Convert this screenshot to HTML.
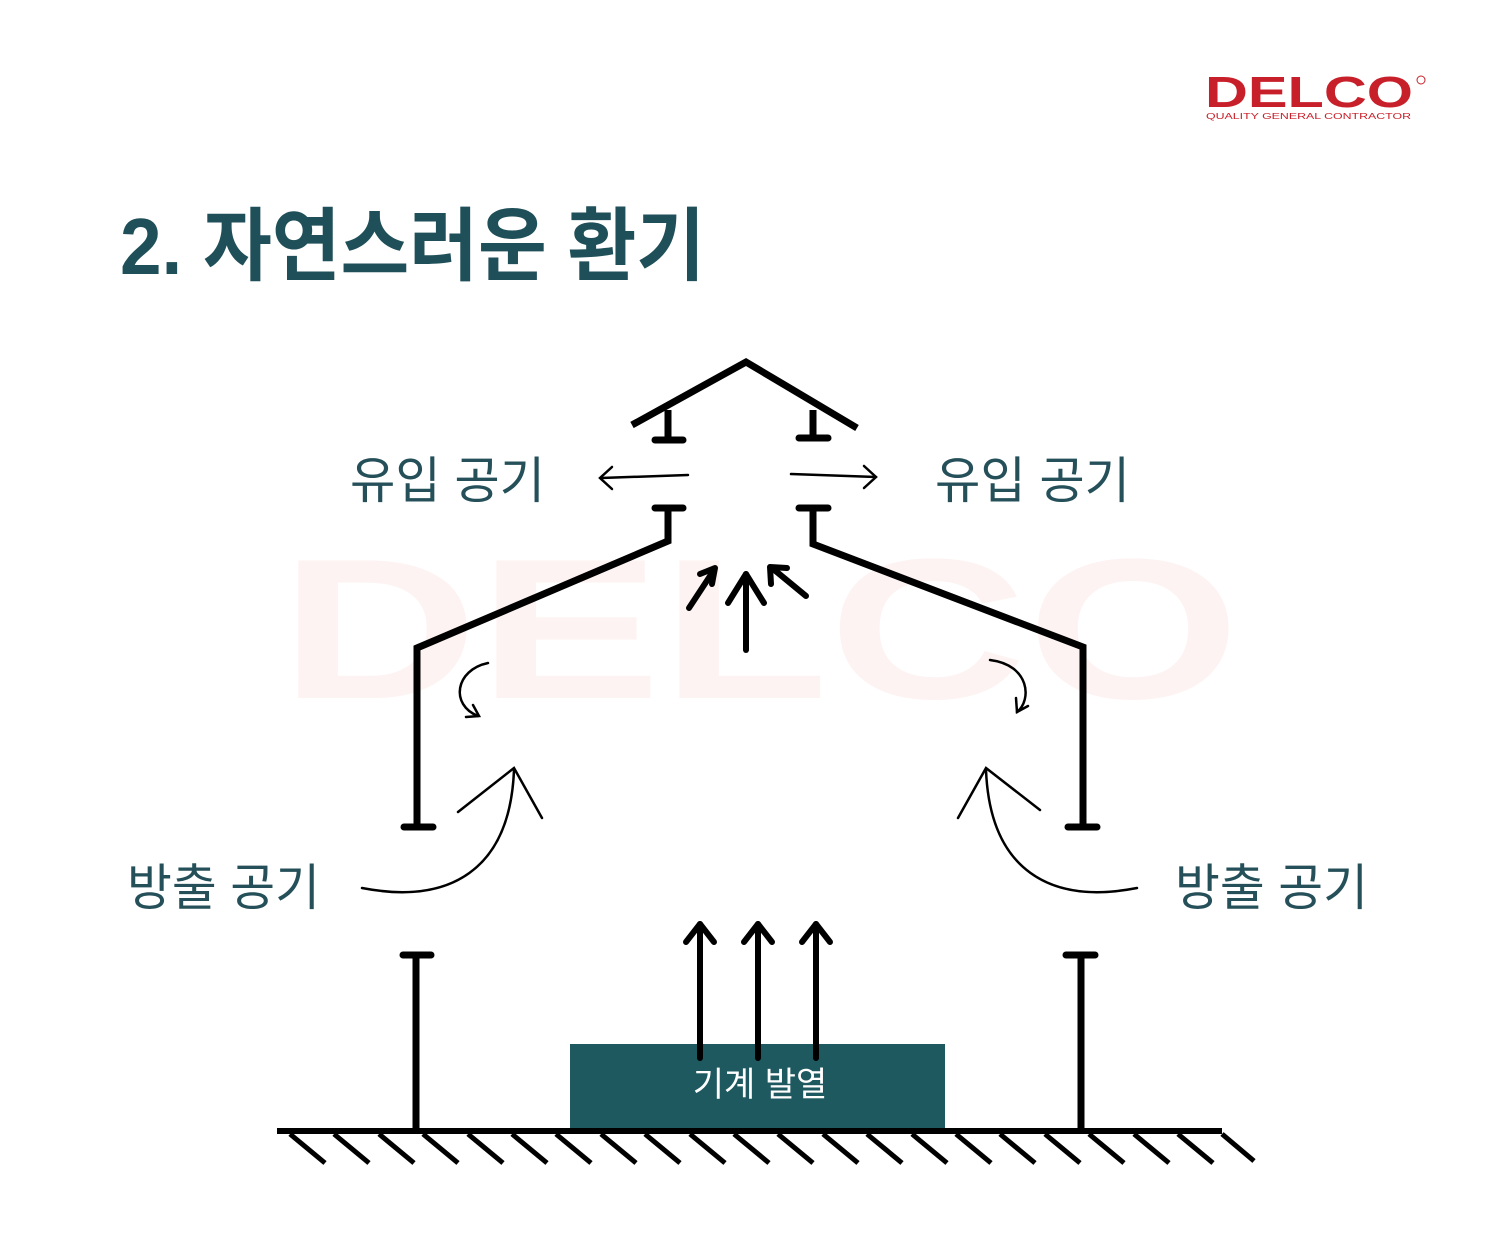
<!DOCTYPE html>
<html><head><meta charset="utf-8"><style>
body{margin:0;background:#fff;}
svg{display:block}
.k{font-family:"Liberation Sans","Noto Sans CJK KR",sans-serif;}
</style></head><body>
<svg width="1500" height="1257" viewBox="0 0 1500 1257" xmlns="http://www.w3.org/2000/svg">
<rect width="1500" height="1257" fill="#fff"/>
<text x="760" y="698" text-anchor="middle" font-family="Liberation Sans,sans-serif" font-weight="bold" font-size="200" fill="#fdf3f2" textLength="960" lengthAdjust="spacingAndGlyphs">DELCO</text>
<text x="1205" y="107" font-family="Liberation Sans,sans-serif" font-weight="bold" font-size="44" fill="#c8202a" textLength="208" lengthAdjust="spacingAndGlyphs">DELCO</text>
<circle cx="1421" cy="80" r="4" fill="none" stroke="#c8202a" stroke-width="1"/>
<text x="1206" y="119" font-family="Liberation Sans,sans-serif" font-size="8" fill="#c8202a" textLength="205" lengthAdjust="spacingAndGlyphs">QUALITY GENERAL CONTRACTOR</text>
<text class="k" x="120" y="274" font-weight="bold" font-size="80" fill="#1f4f58" textLength="585" lengthAdjust="spacingAndGlyphs">2. 자연스러운 환기</text>
<g stroke="#000" fill="none" stroke-width="7" stroke-linecap="butt">
<polyline points="632,425 746,362 857,428"/>
<line x1="668" y1="410" x2="668" y2="440"/><line x1="655" y1="440" x2="683" y2="440" stroke-linecap="round"/>
<line x1="813" y1="410" x2="813" y2="438"/><line x1="799" y1="438" x2="828" y2="438" stroke-linecap="round"/>
<line x1="655" y1="508" x2="683" y2="508" stroke-linecap="round"/>
<polyline points="668,508 668,541 417,648 417,827"/>
<line x1="404" y1="827" x2="433" y2="827" stroke-linecap="round"/>
<line x1="799" y1="508" x2="828" y2="508" stroke-linecap="round"/>
<polyline points="813,508 813,544 1083,647 1083,827"/>
<line x1="1068" y1="827" x2="1097" y2="827" stroke-linecap="round"/>
<line x1="403" y1="955" x2="431" y2="955" stroke-linecap="round"/>
<line x1="416" y1="955" x2="416" y2="1131"/>
<line x1="1066" y1="955" x2="1095" y2="955" stroke-linecap="round"/>
<line x1="1081" y1="955" x2="1081" y2="1131"/>
<line x1="277" y1="1131" x2="1222" y2="1131" stroke-width="6"/>
</g>
<g stroke="#000" stroke-width="5">
<line x1="290" y1="1134" x2="325" y2="1163"/><line x1="334" y1="1134" x2="369" y2="1163"/><line x1="379" y1="1134" x2="414" y2="1163"/><line x1="423" y1="1134" x2="458" y2="1163"/><line x1="468" y1="1134" x2="503" y2="1163"/><line x1="512" y1="1134" x2="547" y2="1163"/><line x1="556" y1="1134" x2="591" y2="1163"/><line x1="601" y1="1134" x2="636" y2="1163"/><line x1="645" y1="1134" x2="680" y2="1163"/><line x1="690" y1="1134" x2="725" y2="1163"/><line x1="734" y1="1134" x2="769" y2="1163"/><line x1="778" y1="1134" x2="813" y2="1163"/><line x1="823" y1="1134" x2="858" y2="1163"/><line x1="867" y1="1134" x2="902" y2="1163"/><line x1="912" y1="1134" x2="947" y2="1163"/><line x1="956" y1="1134" x2="991" y2="1163"/><line x1="1000" y1="1134" x2="1035" y2="1163"/><line x1="1045" y1="1134" x2="1080" y2="1163"/><line x1="1089" y1="1134" x2="1124" y2="1163"/><line x1="1134" y1="1134" x2="1169" y2="1163"/><line x1="1178" y1="1134" x2="1213" y2="1163"/><line x1="1222" y1="1134" x2="1254" y2="1161"/>
</g>
<rect x="570" y="1044" width="375" height="84" fill="#1f5960"/>
<text class="k" x="760" y="1096" text-anchor="middle" font-size="34" fill="#fff">기계 발열</text>
<g stroke="#000" stroke-width="6" fill="none" stroke-linecap="round" stroke-linejoin="round">
<line x1="700" y1="1058" x2="700" y2="924"/><polyline points="686,942 700,924 714,942"/>
<line x1="758" y1="1058" x2="758" y2="924"/><polyline points="744,942 758,924 772,942"/>
<line x1="816" y1="1058" x2="816" y2="924"/><polyline points="802,942 816,924 830,942"/>
<line x1="746" y1="650" x2="746" y2="574"/><polyline points="728,603 746,574 764,603"/>
<line x1="689" y1="608" x2="714" y2="570"/><polyline points="700,574 715,568 712,584"/>
<line x1="806" y1="596" x2="772" y2="568"/><polyline points="771,584 770,567 787,568"/>
</g>
<g stroke="#000" stroke-width="2.5" fill="none" stroke-linecap="round">
<path d="M688,475 L601,478"/><polyline points="612,467 600,478 612,489"/>
<path d="M791,474 L876,477"/><polyline points="864,466 876,477 864,488"/>
<path d="M488,663 C455,670 450,705 478,716"/><polyline points="466,717 479,716 473,705"/>
<path d="M990,660 C1030,665 1032,700 1017,712"/><polyline points="1016,698 1017,712 1028,706"/>
<path d="M362,888 C450,905 510,870 514,770"/><polyline points="458,812 514,768 542,818"/>
<path d="M1137,888 C1050,905 990,870 986,770"/><polyline points="1040,810 986,768 958,818"/>
</g>
<g class="k" font-size="50" fill="#25505a">
<text x="350" y="498" textLength="195" lengthAdjust="spacingAndGlyphs">유입 공기</text>
<text x="935" y="498" textLength="195" lengthAdjust="spacingAndGlyphs">유입 공기</text>
<text x="127" y="905" textLength="193" lengthAdjust="spacingAndGlyphs">방출 공기</text>
<text x="1175" y="905" textLength="193" lengthAdjust="spacingAndGlyphs">방출 공기</text>
</g>
</svg>
</body></html>
